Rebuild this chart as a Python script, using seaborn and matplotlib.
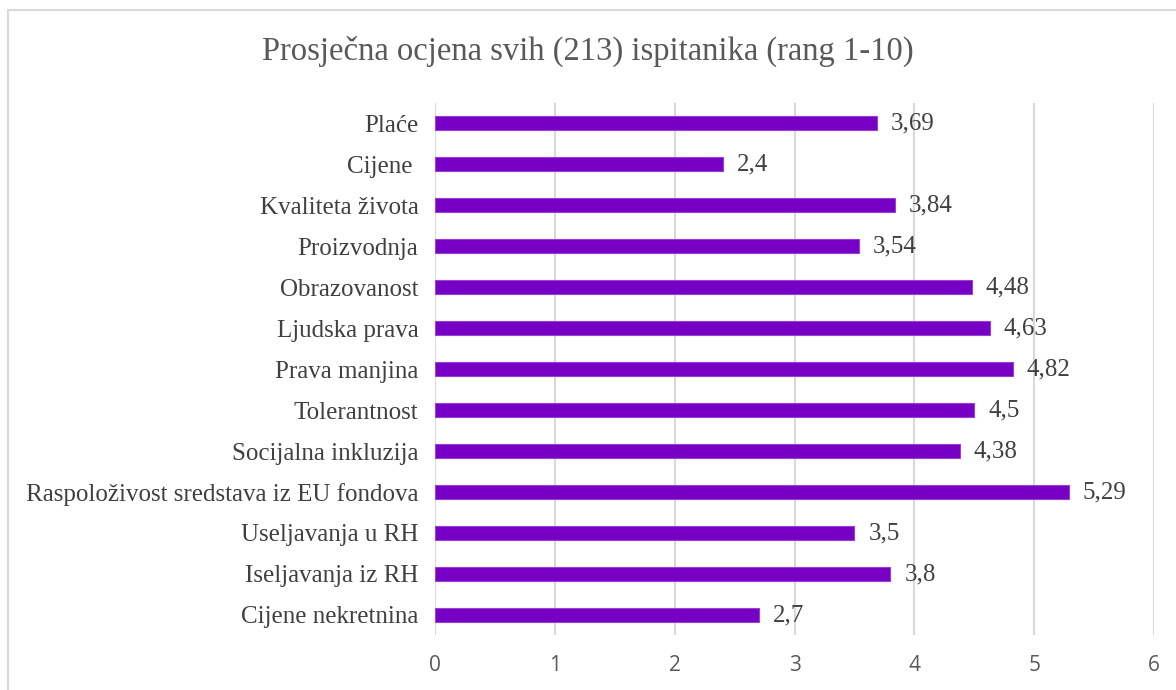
import matplotlib
matplotlib.use('Agg')
import matplotlib.pyplot as plt
import seaborn as sns
import pandas as pd
from matplotlib.patches import Rectangle

categories = [
    'Plaće', 'Cijene ', 'Kvaliteta života', 'Proizvodnja', 'Obrazovanost',
    'Ljudska prava', 'Prava manjina', 'Tolerantnost', 'Socijalna inkluzija',
    'Raspoloživost sredstava iz EU fondova', 'Useljavanja u RH',
    'Iseljavanja iz RH', 'Cijene nekretnina',
]
values = [3.69, 2.4, 3.84, 3.54, 4.48, 4.63, 4.82, 4.5, 4.38, 5.29, 3.5, 3.8, 2.7]
x_ticks = [0, 1, 2, 3, 4, 5, 6]
title = 'Prosječna ocjena svih (213) ispitanika (rang 1-10)'

df = pd.DataFrame({'kategorija': categories, 'ocjena': values})

sns.set_theme(style='white')
serif = ['Liberation Serif', 'DejaVu Serif']
sans = ['Open Sans', 'DejaVu Sans']

fig = plt.figure(figsize=(11.76, 6.9), dpi=100)
ax = fig.add_axes([0.370, 0.079, 0.6113, 0.7724])

sns.barplot(data=df, x='ocjena', y='kategorija', orient='h', color='#7600C3',
            width=0.34, saturation=1, edgecolor='#9A3FD6', linewidth=0.8, ax=ax)

ax.set_xlim(0, 6)
ax.set_xticks(x_ticks)
ax.set_xticklabels([str(t) for t in x_ticks], family=sans, fontsize=15, color='#595959')
ax.set_yticks(range(len(categories)))
ax.set_yticklabels(categories, family=serif, fontsize=18, color='#404040')
ax.tick_params(axis='both', length=0)
ax.tick_params(axis='y', pad=12)
ax.tick_params(axis='x', pad=14)
ax.set_xlabel('')
ax.set_ylabel('')
ax.xaxis.grid(True, color='#D9D9D9', linewidth=1.5)
ax.set_axisbelow(True)
for s in ax.spines.values():
    s.set_visible(False)

labels = [str(v).replace('.', ',') for v in values]
ax.bar_label(ax.containers[0], labels=labels, padding=10,
             family=serif, fontsize=18, color='#404040')

fig.text(0.5, 0.926, title, ha='center', va='center', family=serif,
         fontsize=23.5, color='#595959')

fig.patches.append(Rectangle((8 / 1176, -0.05), 1.1, 1.05 - 10 / 690,
                             transform=fig.transFigure, fill=False,
                             edgecolor='#D9D9D9', linewidth=1.5))

fig.savefig('out.png', dpi=100)
